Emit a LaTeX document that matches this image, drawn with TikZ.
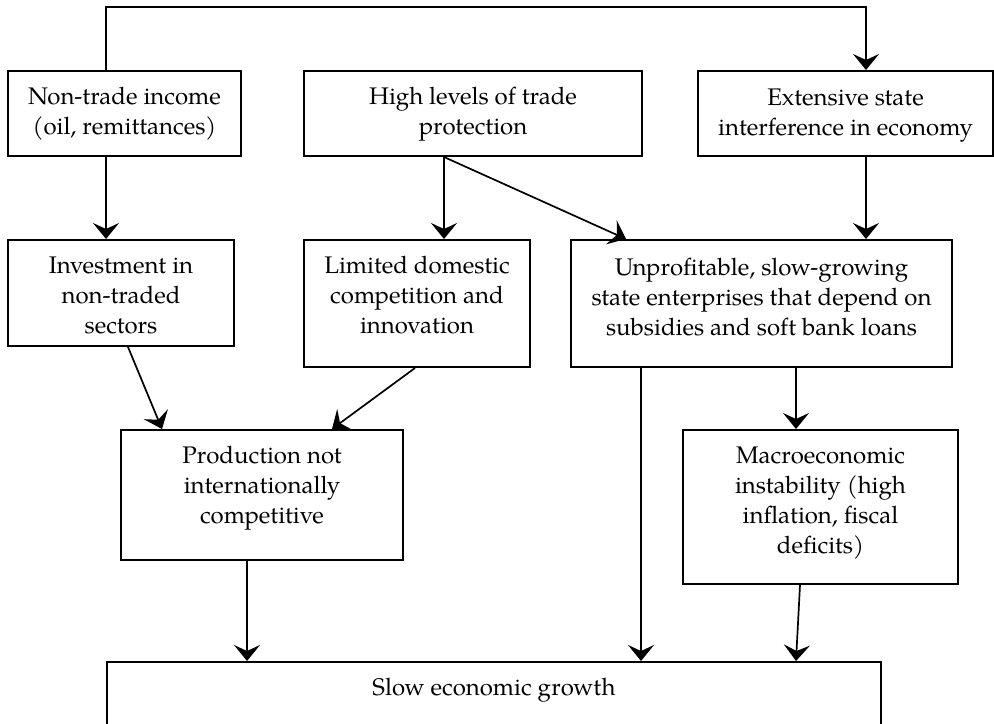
\documentclass[tikz,border=0pt]{standalone}
\usepackage{fontspec}
\setmainfont{TeX Gyre Pagella}
\usetikzlibrary{arrows.meta,calc}
\begin{document}
\begin{tikzpicture}[x=0.5pt,y=-0.5pt,
  box/.style 2 args={draw,line width=1pt,rectangle,inner sep=0pt,
    minimum width=#1*0.5pt,minimum height=#2*0.5pt},
  txt/.style={anchor=north,align=center,inner sep=0pt,
    font=\fontsize{12}{15}\selectfont},
  arr/.style={-{Stealth[length=8pt,width=13pt,inset=3pt]},line width=0.85pt}]
\useasboundingbox (0,0) rectangle (994,723);
\fill[white] (0,0) rectangle (994,723);
\clip (0,0) rectangle (994,723);
% boxes
\node[box={233}{85}]  (A) at (124.5,113.5) {};
\node[box={338}{85}]  (B) at (473,113.5) {};
\node[box={295}{85}]  (C) at (845.5,113.5) {};
\node[box={226}{106}] (D) at (121,293) {};
\node[box={226}{127}] (E) at (417,303.5) {};
\node[box={381}{127}] (F) at (761.5,303.5) {};
\node[box={282}{130}] (G) at (262,495) {};
\node[box={275}{154}] (H) at (820.5,507) {};
\node[box={774}{118}] (I) at (494,721) {};
% texts
\node[txt] (At) at (124.5,87) {Non-trade income\\(oil, remittances)};
\node[txt] (Bt) at (473,87) {High levels of trade\\protection};
\node[txt] (Ct) at (845.5,88) {Extensive state\\interference in economy};
\node[txt] (Dt) at (121,256) {Investment in\\non-traded\\sectors};
\node[txt] (Et) at (417,256) {Limited domestic\\competition and\\innovation};
\node[txt] (Ft) at (761.5,258) {Unprofitable, slow-growing\\state enterprises that depend on\\subsidies and soft bank loans};
\node[txt] (Gt) at (262,446) {Production not\\internationally\\competitive};
\node[txt] (Ht) at (820.5,446) {Macroeconomic\\instability (high\\inflation, fiscal\\deficits)};
\node[txt] (It) at (494,678) {Slow economic growth};
% connectors
\draw[arr] ($(A.north west)+(99,0)$) -- ++(0,-63) -| ($(C.north west)+(169,0)$);
\draw[arr] ($(A.south west)+(99,0)$) -- ($(D.north west)+(99,0)$);
\draw[arr] ($(B.south west)+(141,0)$) -- ($(E.north west)+(141,0)$);
\draw[arr] ($(B.south west)+(141,0)$) -- ($(F.north west)+(56,0)$);
\draw[arr] ($(C.south west)+(169,0)$) -- ($(F.north west)+(296,0)$);
\draw[arr] ($(D.south west)+(121,0)$) -- ($(G.north west)+(42,0)$);
\draw[arr] ($(E.south west)+(112,0)$) -- ($(G.north west)+(212,0)$);
\draw[arr] ($(F.south west)+(226,0)$) -- ($(H.north west)+(114,0)$);
\draw[arr] ($(F.south west)+(71,0)$) -- ($(I.north west)+(535,0)$);
\draw[arr] ($(G.south west)+(127,0)$) -- ($(I.north west)+(141,0)$);
\draw[arr] ($(H.south west)+(118,0)$) -- ($(I.north west)+(690,0)$);
\end{tikzpicture}
\end{document}
